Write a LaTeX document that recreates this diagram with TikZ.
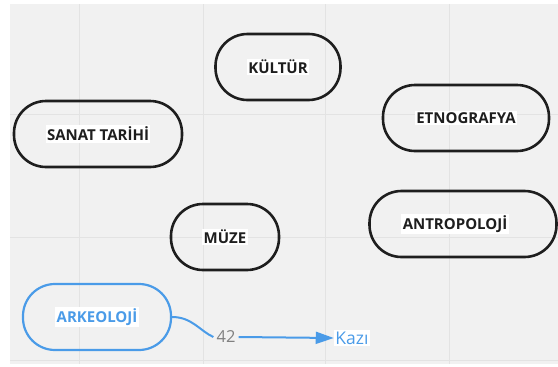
\documentclass[tikz,border=0pt]{standalone}
\usepackage{fontspec}
\setmainfont{Open Sans}
\usetikzlibrary{arrows.meta,positioning}
\definecolor{canvas}{HTML}{F1F1F1}
\definecolor{gridline}{HTML}{E3E3E3}
\definecolor{ink}{HTML}{1E1E1E}
\definecolor{sky}{HTML}{4A9BE8}
\newcommand{\hl}[1]{{\setlength{\fboxsep}{1.5pt}\colorbox{white}{#1}}}

\begin{document}
\begin{tikzpicture}[x=1pt, y=-1pt,
        every node/.style={font=\fontsize{16.5}{18}\selectfont},
        pill/.style={draw=ink, line width=2.6pt, rounded corners=32pt, minimum height=66pt, inner sep=0pt, font=\bfseries\fontsize{15}{17}\selectfont, text=ink},
        bluepill/.style={pill, draw=sky, line width=2.2pt, text=sky},
        link/.style={draw=sky, line width=2pt}
    ]

    % Canvas
    \useasboundingbox (0,0) rectangle (558,367);
    \fill[canvas] (10,4) rectangle (558,364);
    \foreach \x in {79,203,325,449}
        \draw[gridline, line width=0.8pt] (\x,4) -- (\x,364);
    \foreach \y in {114,237,360}
        \draw[gridline, line width=0.8pt] (10,\y) -- (558,\y);

    % Nodes
    \node[pill, minimum width=125pt] (kultur) at (278,67) {\hl{KÜLTÜR}};
    \node[pill, minimum width=168pt] (sanat) at (98,134) {\hl{SANAT TARİHİ}};
    \node[pill, minimum width=166pt] (etno) at (466,118) {\hl{ETNOGRAFYA}};
    \node[pill, minimum width=108pt] (muze) at (225,237) {\hl{MÜZE}};
    \node[pill, minimum width=187pt] (antro) at (463,224) {\hspace*{-16pt}\hl{ANTROPOLOJİ}};
    \node[bluepill, minimum width=148pt] (arkeo) at (97,317) {\hl{ARKEOLOJİ}};

    \node[text=gray, inner sep=3pt] (num) at (226,337) {42};
    \node[text=sky, inner sep=0pt, font=\fontsize{17.5}{19}\selectfont] (kazi) at (352,338) {\hl{Kazı}};

    % Edges
    \draw[link] (arkeo.east) .. controls (192,317) and (200,331) .. (num.west);
    \draw[link, -{Triangle[length=18pt,width=12pt]}] (num.east) -- (kazi.west);

\end{tikzpicture}
\end{document}
